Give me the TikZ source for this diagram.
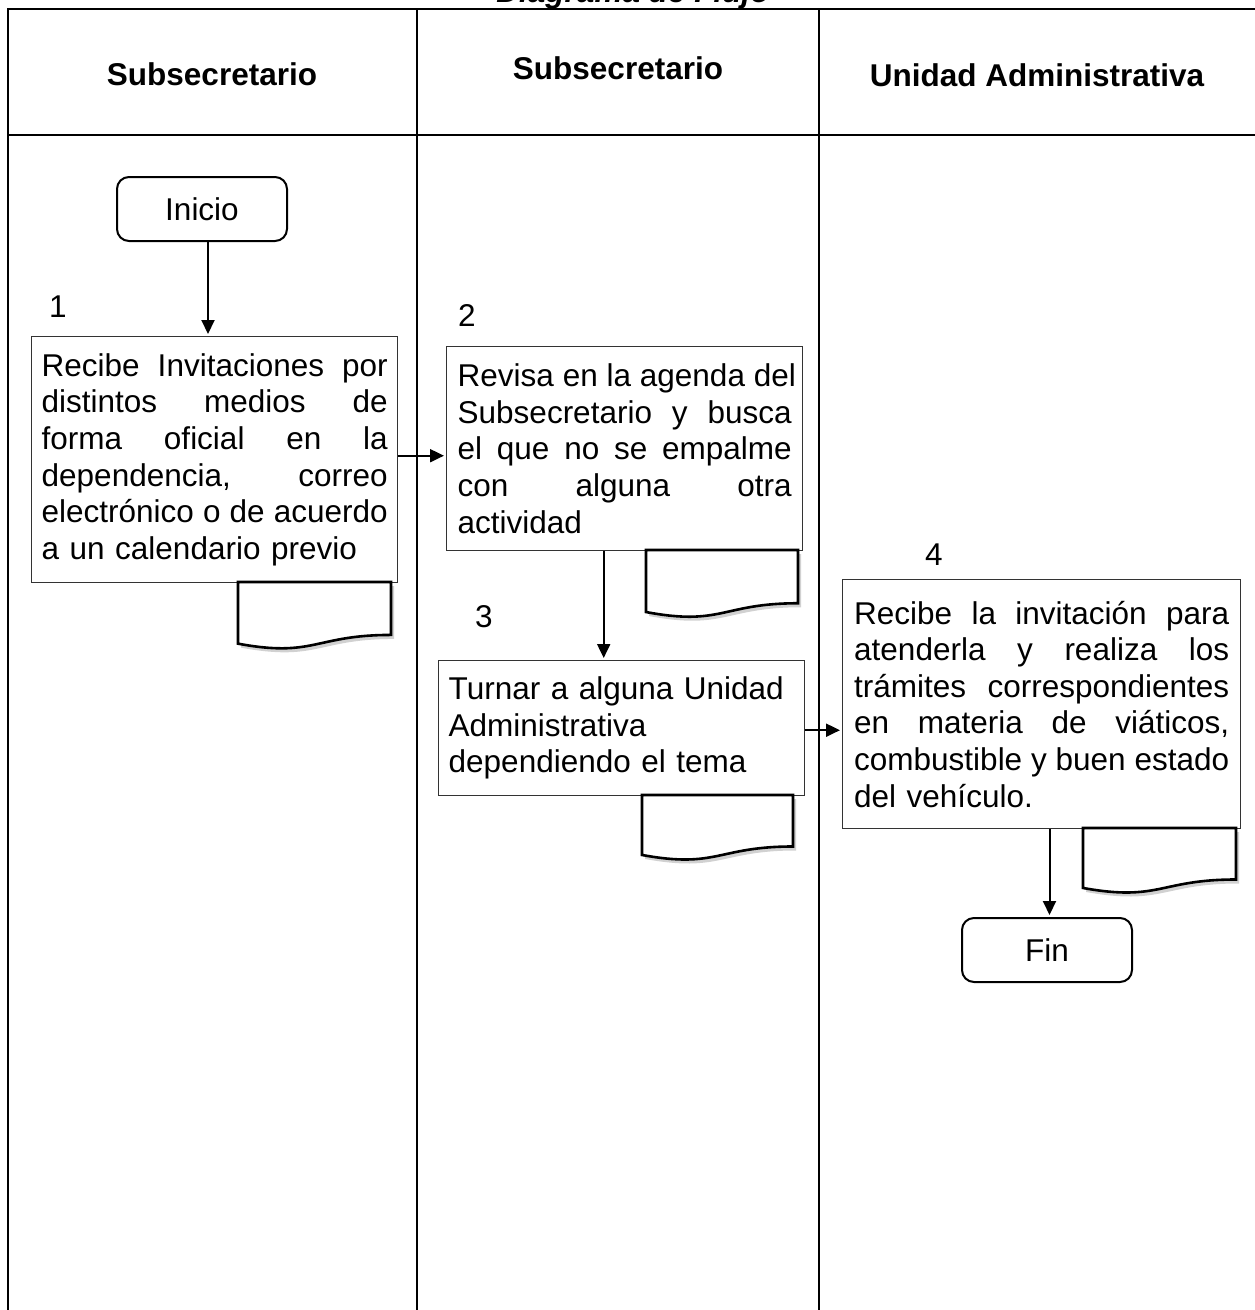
\documentclass[tikz,border=0pt]{standalone}
\usepackage{fontspec}
\setmainfont{Liberation Sans}
\usetikzlibrary{arrows.meta,shadows}

\newcommand\txtsize{\fontsize{31.5pt}{36.6pt}\selectfont}
% one justified line of a process text, stretched to the given width
\newcommand\jline[2]{\leavevmode\hbox to #1{\frenchspacing\spaceskip=0.28em plus 1fil\relax #2}\\}
% document symbol: left x, right x, top y, height
\newcommand\docsheet[4]{%
  \path[docsym] (#1,#3) -- (#2,#3) -- (#2,{#3+0.802*#4})
    .. controls ({(#1+#2)/2},{#3+0.802*#4}) and ({(#1+#2)/2},{#3+1.15*#4}) ..
    (#1,{#3+0.934*#4}) -- cycle;}

\tikzset{
  laneheavy/.style={line width=2.8pt, line cap=rect},
  lanelight/.style={line width=1.5pt},
  header/.style={font=\txtsize\bfseries, anchor=base},
  stepno/.style={font=\txtsize},
  procbox/.style={draw=black!80, line width=1.4pt, fill=white, anchor=north west,
    inner ysep=0pt, font=\txtsize, align=left},
  terminal/.style={draw, line width=2pt, rounded corners=12pt, fill=white,
    anchor=north west, minimum width=170pt, minimum height=64pt, inner sep=0pt,
    font=\txtsize},
  docsym/.style={draw, line width=2.6pt, fill=white,
    drop shadow={shadow xshift=3pt, shadow yshift=-4pt, fill=black!30, opacity=0.6}},
  flow/.style={line width=2pt, -{Triangle[length=14pt,width=13pt]}, shorten >=2pt},
}

\begin{document}
\begin{tikzpicture}[x=1pt, y=-1pt]
\useasboundingbox (0,0) rectangle (1255,1310);
\clip (0,0) rectangle (1255,1310);

% title and swimlane table
\node[font=\txtsize\bfseries\itshape, anchor=base] (title) at (633,2) {Diagrama de Flujo};
\draw[laneheavy] (8,1320) -- (8,9) -- (1270,9);
\draw[laneheavy] (8,135) -- (1270,135);
\draw[lanelight] (417,9) -- (417,1320);
\draw[laneheavy] (819,9) -- (819,1320);

\node[header] (h1) at (212,85) {Subsecretario};
\node[header] (h2) at (618,79) {Subsecretario};
\node[header] (h3) at (1037,86) {Unidad Administrativa};

% start
\node[terminal] (inicio) at (116,176) {Inicio};

% step 1
\node[stepno] (n1) at (58,307) {1};
\node[procbox, text width=346pt, inner xsep=10pt, minimum height=246pt] (p1) at (31,336) {%
\jline{346pt}{Recibe Invitaciones por}
\jline{346pt}{distintos medios de}
\jline{346pt}{forma oficial en la}
\jline{346pt}{dependencia, correo}
\jline{346pt}{electrónico o de acuerdo}
a un calendario previo};
\docsheet{238}{391}{582}{66}

% step 2
\node[stepno] (n2) at (467,315) {2};
\node[procbox, text width=334pt, inner xsep=11pt, minimum height=204pt] (p2) at (446,346) {%
\jline{334pt}{Revisa en la agenda del}
\jline{334pt}{Subsecretario y busca}
\jline{334pt}{el que no se empalme}
\jline{334pt}{con alguna otra}
actividad};
\docsheet{646}{798}{550}{66.4}

% step 3
\node[stepno] (n3) at (484,617) {3};
\node[procbox, text width=346pt, inner xsep=10pt, minimum height=135pt] (p3) at (438,660) {%
Turnar a alguna Unidad\\
Administrativa\\
dependiendo el tema};
\docsheet{642}{793}{795}{64.2}

% step 4
\node[stepno] (n4) at (934,555) {4};
\node[procbox, text width=375pt, inner xsep=11.5pt, minimum height=249pt] (p4) at (842,579) {%
\jline{375pt}{Recibe la invitación para}
\jline{375pt}{atenderla y realiza los}
\jline{375pt}{trámites correspondientes}
\jline{375pt}{en materia de viáticos,}
\jline{375pt}{combustible y buen estado}
del vehículo.};
\docsheet{1083}{1236}{828}{64.2}

% end
\node[terminal] (fin) at (961,917) {Fin};

% connectors
\draw[flow] ([xshift=6pt]inicio.south) -- ([xshift=6pt]inicio.south |- p1.north);
\draw[flow] ([yshift=4pt]p1.east) coordinate (e12) -- (e12 -| p2.west);
\draw[flow] ([xshift=-21pt]p2.south) -- ([xshift=-21pt]p2.south |- p3.north);
\draw[flow] ([yshift=-2pt]p3.east) coordinate (e34) -- (e34 -| p4.west);
\draw[flow] ([xshift=2.5pt]fin.north |- p4.south) -- ([xshift=2.5pt]fin.north);
\end{tikzpicture}
\end{document}
